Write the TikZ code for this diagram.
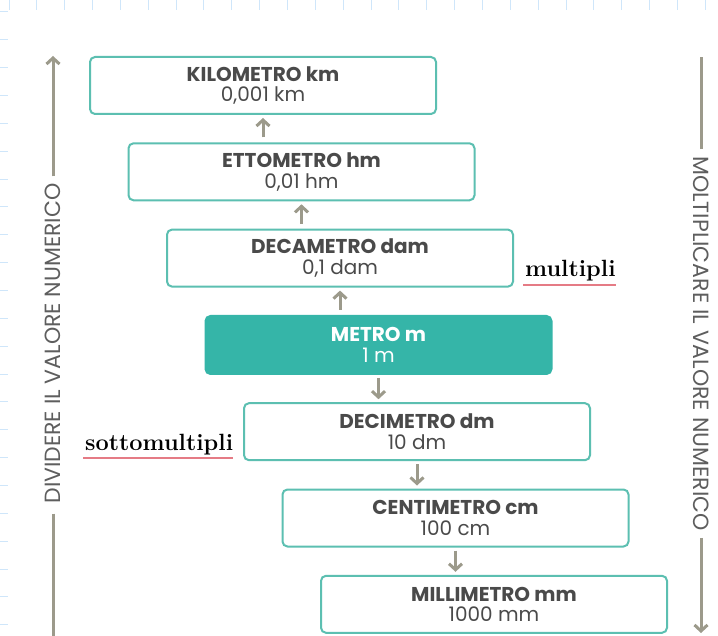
\documentclass[tikz,border=0pt]{standalone}
\usepackage{fontspec}
\newfontfamily\pop{Poppins}
\usetikzlibrary{arrows.meta}
\definecolor{boxteal}{HTML}{5CBFB1}
\definecolor{metrofill}{HTML}{35B5A8}
\definecolor{txtgray}{HTML}{4A4A4A}
\definecolor{arrgray}{HTML}{9C9A8B}
\definecolor{labgray}{HTML}{5E5E5E}
\definecolor{gridblue}{HTML}{CFE6FA}
\definecolor{ulred}{HTML}{E57B85}
\begin{document}
\begin{tikzpicture}[x=1pt,y=-1pt,
  unitbox/.style={draw=boxteal, line width=2pt, rounded corners=5pt,
    minimum width=346pt, minimum height=57pt, inner sep=0pt, align=center,
    font=\pop\fontsize{20}{20.5}\selectfont, text=txtgray, fill=white},
  mainbox/.style={unitbox, fill=metrofill, draw=metrofill, text=white},
  arr/.style={draw=arrgray, line width=3pt, -{Straight Barb[length=6pt,width=13pt]}},
  plainline/.style={draw=arrgray, line width=3pt},
  sidelab/.style={font=\pop\fontsize{22}{22}\selectfont, text=labgray, inner sep=0pt},
  serlab/.style={font=\bfseries\fontsize{23.5}{23.5}\selectfont, text=black, inner sep=0pt, anchor=base west},
  ul/.style={draw=ulred, line width=1.5pt}
]
\useasboundingbox (0,0) rectangle (718,636);
% background grid
\foreach \i in {0,...,25} { \draw[gridblue, line width=1pt] (9+27.85*\i,0) -- (9+27.85*\i,636); }
\foreach \j in {0,...,22} { \draw[gridblue, line width=1pt] (0,12+27.85*\j) -- (718,12+27.85*\j); }
\fill[white] (8,10) rectangle (718,636);

% unit boxes
\node[unitbox] (b1) at (263,85.5) {\textbf{KILOMETRO km}\\0,001 km};
\node[unitbox] (b2) at (301.5,171.8) {\textbf{ETTOMETRO hm}\\0,01 hm};
\node[unitbox] (b3) at (340,258.1) {\textbf{DECAMETRO dam}\\0,1 dam};
\node[mainbox, minimum height=58pt] (b4) at (378.5,345) {\textbf{METRO m}\\1 m};
\node[unitbox] (b5) at (417,431.7) {\textbf{DECIMETRO dm}\\10 dm};
\node[unitbox] (b6) at (455.5,518) {\textbf{CENTIMETRO cm}\\100 cm};
\node[unitbox] (b7) at (494,604.3) {\textbf{MILLIMETRO mm}\\1000 mm};

% arrows between boxes
\draw[arr, shorten <=5pt, shorten >=3pt] (b2.north -| b1.center) -- (b1.south);
\draw[arr, shorten <=5pt, shorten >=3pt] (b3.north -| b2.center) -- (b2.south);
\draw[arr, shorten <=5pt, shorten >=3pt] (b4.north -| b3.center) -- (b3.south);
\draw[arr, shorten <=3pt, shorten >=3pt] (b4.south) -- (b5.north -| b4.center);
\draw[arr, shorten <=3pt, shorten >=3pt] (b5.south) -- (b6.north -| b5.center);
\draw[arr, shorten <=3pt, shorten >=3pt] (b6.south) -- (b7.north -| b6.center);

% side labels and arrows
\node[sidelab, rotate=90] (ldiv) at (53,343.5) {DIVIDERE IL VALORE NUMERICO};
\coordinate (ltop) at (53,56);
\coordinate (lbot) at (53,636);
\draw[arr, shorten <=7pt] (ldiv.east) -- (ltop);
\draw[plainline, shorten <=10pt] (ldiv.west) -- (lbot);

\node[sidelab, rotate=-90] (rmul) at (701,343.5) {MOLTIPLICARE IL VALORE NUMERICO};
\coordinate (rtop) at (701,57);
\coordinate (rbot) at (701,633);
\draw[plainline, shorten <=7pt] (rmul.west) -- (rtop);
\draw[arr, shorten <=7pt] (rmul.east) -- (rbot);

% multipli / sottomultipli
\node[serlab] (mult) at (525,277) {multipli};
\draw[ul] ([xshift=-2pt,yshift=-8pt]mult.base west) -- ([yshift=-8pt]mult.base east);
\node[serlab] (sott) at (85,450) {sottomultipli};
\draw[ul] ([xshift=-2pt,yshift=-8pt]sott.base west) -- ([yshift=-8pt]sott.base east);
\end{tikzpicture}
\end{document}
